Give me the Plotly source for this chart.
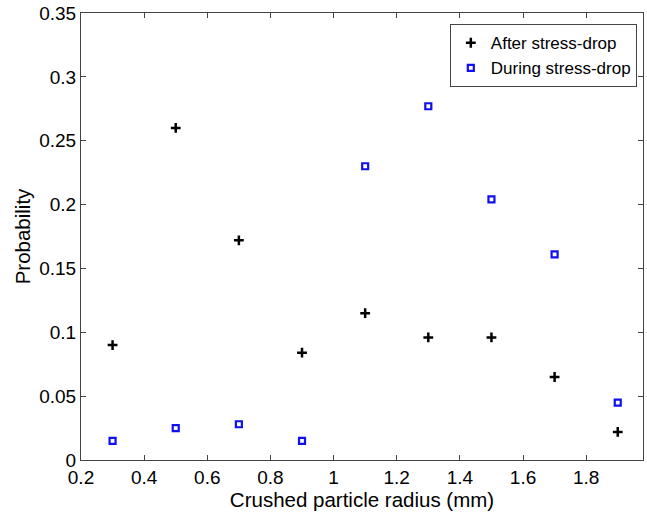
import plotly.graph_objects as go

radius = [0.3, 0.5, 0.7, 0.9, 1.1, 1.3, 1.5, 1.7, 1.9]
after_drop = [0.090, 0.260, 0.172, 0.084, 0.115, 0.096, 0.096, 0.065, 0.022]
during_drop = [0.015, 0.025, 0.028, 0.015, 0.230, 0.277, 0.204, 0.161, 0.045]
x_ticks = [0.2, 0.4, 0.6, 0.8, 1.0, 1.2, 1.4, 1.6, 1.8]
x_tick_text = ["0.2", "0.4", "0.6", "0.8", "1", "1.2", "1.4", "1.6", "1.8"]
y_ticks = [0, 0.05, 0.1, 0.15, 0.2, 0.25, 0.3, 0.35]
y_tick_text = ["0", "0.05", "0.1", "0.15", "0.2", "0.25", "0.3", "0.35"]

fig = go.Figure()
fig.add_trace(go.Scatter(
    x=radius, y=after_drop, mode="markers", name="After stress-drop",
    marker=dict(symbol="cross-thin", size=7, color="black",
                line=dict(width=2.5, color="black")),
))
fig.add_trace(go.Scatter(
    x=radius, y=during_drop, mode="markers", name="During stress-drop",
    marker=dict(symbol="square-open", size=6, color="#1010ee",
                line=dict(width=2.2, color="#1010ee")),
))

axis_common = dict(
    showline=True, linecolor="#444444", linewidth=1, mirror="ticks",
    ticks="inside", ticklen=5, tickcolor="#444444", showgrid=False,
    zeroline=False, tickfont=dict(family="Liberation Sans, Arial", size=19, color="black"),
)

fig.update_layout(
    width=647, height=517,
    margin=dict(l=81, r=4, t=13, b=57),
    paper_bgcolor="white", plot_bgcolor="white",
    font=dict(family="Liberation Sans, Arial", color="black"),
    xaxis=dict(range=[0.2, 1.98], tickvals=x_ticks, ticktext=x_tick_text,
               title=dict(text="Crushed particle radius (mm)", font=dict(size=20.5), standoff=2),
               **axis_common),
    yaxis=dict(range=[0, 0.35], tickvals=y_ticks, ticktext=y_tick_text,
               title=dict(text="Probability", font=dict(size=20.5), standoff=3),
               **axis_common),
    legend=dict(x=0.989, y=0.975, xanchor="right", yanchor="top",
                bordercolor="#444444", borderwidth=1, bgcolor="white",
                font=dict(size=17), tracegroupgap=0, itemwidth=30),
    showlegend=True,
)

fig.write_html("out.html")
